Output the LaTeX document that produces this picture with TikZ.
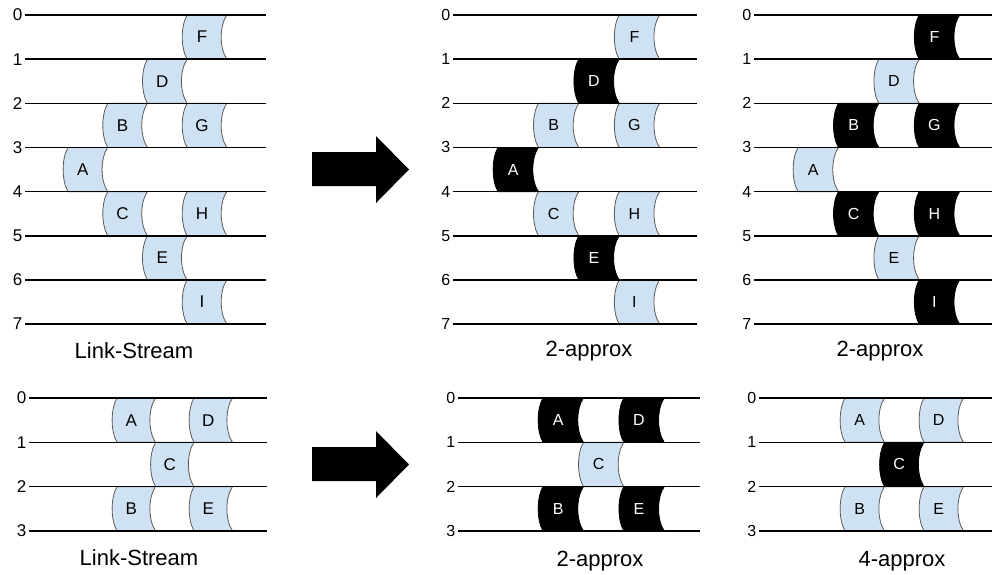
\documentclass[tikz,border=0pt]{standalone}
\usepackage{fontspec}
\setmainfont{Liberation Sans}
\definecolor{lsblue}{HTML}{CFE2F3}
\tikzset{
  ls line/.style={line width=1.5pt, black},
  ls tick/.style={anchor=east, inner sep=2.5pt, font=\lsfont},
  ls blue/.style={fill=lsblue, draw=black!65, line width=0.8pt},
  ls black/.style={fill=black, draw=black, line width=0.8pt},
  ls blue txt/.style={inner sep=0pt, font=\lsfont, text=black},
  ls black txt/.style={inner sep=0pt, font=\lsfont, text=white},
  ls cap/.style={anchor=base, font=\fontsize{22}{22}\selectfont},
  ls arrow/.style={fill=black},
}
\newcommand{\lsfont}{\fontsize{17}{17}\selectfont}
% one link segment: name, column, row, kind (blue/black), letter
\newcommand{\lsseg}[5]{%
  \pgfmathsetmacro{\lssx}{\lsx+#2*\lsw}\pgfmathsetmacro{\lssy}{#3*\lsh}%
  \pgfmathsetmacro{\lsex}{\lssx+\lsw}\pgfmathsetmacro{\lsey}{\lssy+\lsh}%
  \path[ls #4] (\lssx,\lssy) .. controls ({\lssx-6.5},{\lssy+0.25*\lsh}) and ({\lssx-6.5},{\lssy+0.75*\lsh}) .. (\lssx,\lsey)
    -- (\lsex,\lsey) .. controls ({\lsex-7.5},{\lssy+0.75*\lsh}) and ({\lsex-7.5},{\lssy+0.25*\lsh}) .. (\lsex,\lssy) -- cycle;
  \node[ls #4 txt] (#1) at ({\lssx+0.5*\lsw-5},{\lssy+0.5*\lsh}) {#5};}

\begin{document}
\begin{tikzpicture}[x=1pt, y=-1pt]
\useasboundingbox (0,0) rectangle (992,574);

% top row
\begin{scope}[shift={(25,15)}]
\def\lsx{43}\def\lsw{39.7}\def\lsh{44.15}
\lsseg{aF}{3}{0}{blue}{F} \lsseg{aD}{2}{1}{blue}{D} \lsseg{aB}{1}{2}{blue}{B}
\lsseg{aG}{3}{2}{blue}{G} \lsseg{aA}{0}{3}{blue}{A} \lsseg{aC}{1}{4}{blue}{C}
\lsseg{aH}{3}{4}{blue}{H} \lsseg{aE}{2}{5}{blue}{E} \lsseg{aI}{3}{6}{blue}{I}
\foreach \r in {0,...,7} {\node[ls tick] (a\r) at (0,{\r*\lsh}) {\r}; \draw[ls line] (a\r.east) -- ++(241,0);}
\end{scope}
\node[ls cap] (capa) at (134,358) {Link-Stream};

\begin{scope}[shift={(453,15)}]
\def\lsx{45}\def\lsw{40.4}\def\lsh{44.15}\def\lsfont{\fontsize{16}{16}\selectfont}
\lsseg{bF}{3}{0}{blue}{F} \lsseg{bD}{2}{1}{black}{D} \lsseg{bB}{1}{2}{blue}{B}
\lsseg{bG}{3}{2}{blue}{G} \lsseg{bA}{0}{3}{black}{A} \lsseg{bC}{1}{4}{blue}{C}
\lsseg{bH}{3}{4}{blue}{H} \lsseg{bE}{2}{5}{black}{E} \lsseg{bI}{3}{6}{blue}{I}
\foreach \r in {0,...,7} {\node[ls tick] (b\r) at (0,{\r*\lsh}) {\r}; \draw[ls line] (b\r.east) -- ++(244,0);}
\end{scope}
\node[ls cap] (capb) at (589,356) {2-approx};

\begin{scope}[shift={(754,15)}]
\def\lsx{44}\def\lsw{40.4}\def\lsh{44.15}\def\lsfont{\fontsize{16}{16}\selectfont}
\lsseg{cF}{3}{0}{black}{F} \lsseg{cD}{2}{1}{blue}{D} \lsseg{cB}{1}{2}{black}{B}
\lsseg{cG}{3}{2}{black}{G} \lsseg{cA}{0}{3}{blue}{A} \lsseg{cC}{1}{4}{black}{C}
\lsseg{cH}{3}{4}{black}{H} \lsseg{cE}{2}{5}{blue}{E} \lsseg{cI}{3}{6}{black}{I}
\foreach \r in {0,...,7} {\node[ls tick] (c\r) at (0,{\r*\lsh}) {\r}; \draw[ls line] (c\r.east) -- ++(238,0);}
\end{scope}
\node[ls cap] (capc) at (880,356) {2-approx};

\fill[ls arrow] (312,152) -- (376,152) -- (376,136) -- (409,169.5) -- (376,203) -- (376,186) -- (312,186) -- cycle;

% bottom row
\begin{scope}[shift={(29,398)}]
\def\lsx{88}\def\lsw{38.5}\def\lsh{44.3}
\lsseg{dA}{0}{0}{blue}{A} \lsseg{dD}{2}{0}{blue}{D} \lsseg{dC}{1}{1}{blue}{C}
\lsseg{dB}{0}{2}{blue}{B} \lsseg{dE}{2}{2}{blue}{E}
\foreach \r in {0,...,3} {\node[ls tick] (d\r) at (0,{\r*\lsh}) {\r}; \draw[ls line] (d\r.east) -- ++(238,0);}
\end{scope}
\node[ls cap] (capd) at (139,565) {Link-Stream};

\begin{scope}[shift={(458,398)}]
\def\lsx{85}\def\lsw{40.4}\def\lsh{44.3}\def\lsfont{\fontsize{16}{16}\selectfont}
\lsseg{eA}{0}{0}{black}{A} \lsseg{eD}{2}{0}{black}{D} \lsseg{eC}{1}{1}{blue}{C}
\lsseg{eB}{0}{2}{black}{B} \lsseg{eE}{2}{2}{black}{E}
\foreach \r in {0,...,3} {\node[ls tick] (e\r) at (0,{\r*\lsh}) {\r}; \draw[ls line] (e\r.east) -- ++(242,0);}
\end{scope}
\node[ls cap] (cape) at (600,566) {2-approx};

\begin{scope}[shift={(759,398)}]
\def\lsx{86}\def\lsw{39.5}\def\lsh{44.3}\def\lsfont{\fontsize{16}{16}\selectfont}
\lsseg{fA}{0}{0}{blue}{A} \lsseg{fD}{2}{0}{blue}{D} \lsseg{fC}{1}{1}{black}{C}
\lsseg{fB}{0}{2}{blue}{B} \lsseg{fE}{2}{2}{blue}{E}
\foreach \r in {0,...,3} {\node[ls tick] (f\r) at (0,{\r*\lsh}) {\r}; \draw[ls line] (f\r.east) -- ++(233,0);}
\end{scope}
\node[ls cap] (capf) at (902,566) {4-approx};

\fill[ls arrow] (312,447) -- (376,447) -- (376,431) -- (409,464.5) -- (376,498) -- (376,481) -- (312,481) -- cycle;
\end{tikzpicture}
\end{document}
